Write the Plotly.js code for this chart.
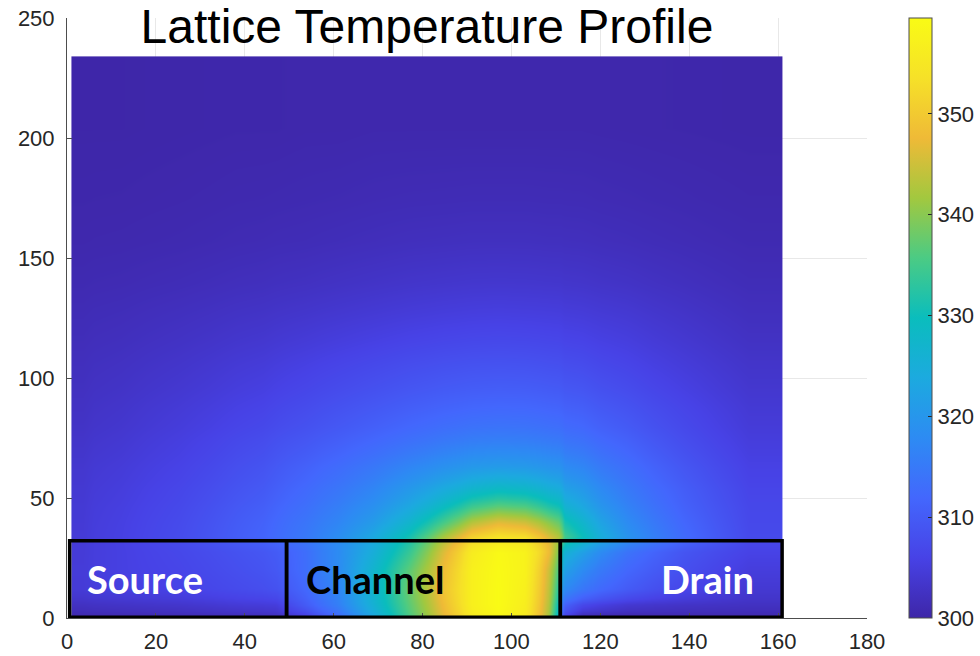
<!DOCTYPE html>
<html>
<head>
<meta charset="utf-8">
<script src="https://cdn.plot.ly/plotly-3.0.1.min.js"></script>
<style>
  html, body { margin: 0; padding: 0; background: #ffffff; }
  #chart { width: 980px; height: 656px; }
</style>
</head>
<body>
<div id="chart"></div>
<script>
// Mesh cell edges (nm) of the simulated device cross-section
const xEdges = [1, 6, 18, 32, 44, 50, 57, 65, 73, 81, 88, 94, 100, 106, 110.5, 112, 120, 132, 146, 161];
const yEdges = [0, 3, 8, 16, 24, 31, 37, 43, 50, 58, 68, 80, 96, 116, 140, 175, 234];

// Lattice temperature (K), one row per y cell, one value per x cell
const tempRows = [
  [301.0, 301.2, 301.5, 302.0, 302.5, 306.0, 313.0, 324.0, 336.0, 347.0, 356.0, 359.0, 356.0, 342.0, 312.0, 302.0, 301.0, 301.0, 301.0],
  [302.5, 303.0, 303.5, 304.5, 305.0, 310.0, 316.0, 326.0, 337.0, 348.0, 357.0, 359.5, 356.5, 343.0, 315.0, 307.0, 304.0, 303.0, 302.5],
  [304.5, 305.2, 306.0, 307.3, 308.5, 312.0, 317.0, 327.0, 338.0, 349.0, 357.0, 359.5, 357.0, 344.0, 321.0, 314.5, 310.0, 306.5, 304.0],
  [304.6, 305.5, 306.5, 308.0, 309.5, 313.0, 318.0, 327.0, 337.0, 348.0, 357.0, 359.3, 357.5, 345.0, 326.0, 318.0, 312.0, 308.0, 305.0],
  [304.5, 305.5, 306.8, 308.5, 310.0, 313.0, 318.0, 325.0, 334.0, 346.0, 356.0, 359.0, 357.5, 348.0, 330.0, 322.0, 314.0, 309.0, 306.0],
  [304.4, 305.6, 307.5, 310.3, 312.6, 314.8, 318.3, 323.5, 331.0, 342.0, 351.0, 354.0, 353.0, 346.0, 340.0, 330.0, 319.5, 312.5, 307.2],
  [304.3, 305.5, 307.3, 310.0, 312.2, 314.2, 317.0, 321.0, 327.0, 335.0, 343.0, 346.5, 345.0, 340.0, 335.0, 327.0, 318.0, 311.8, 307.0],
  [304.2, 305.3, 307.0, 309.5, 311.5, 313.3, 315.8, 319.0, 323.5, 329.0, 334.5, 337.0, 336.0, 332.0, 329.0, 323.5, 316.5, 311.0, 306.8],
  [304.0, 305.0, 306.6, 308.8, 310.6, 312.3, 314.4, 317.0, 320.5, 324.0, 327.0, 328.5, 327.8, 325.5, 323.8, 320.5, 315.0, 310.3, 306.4],
  [303.7, 304.6, 306.0, 308.0, 309.6, 311.0, 312.7, 314.7, 317.0, 319.0, 320.5, 321.0, 320.7, 319.7, 318.9, 317.0, 313.2, 309.2, 305.8],
  [303.2, 304.0, 305.3, 307.0, 308.3, 309.3, 310.6, 312.0, 313.5, 314.8, 315.7, 316.0, 315.8, 315.2, 314.7, 313.6, 311.0, 307.8, 305.0],
  [302.6, 303.3, 304.4, 305.7, 306.7, 307.5, 308.5, 309.5, 310.5, 311.3, 311.8, 312.0, 311.9, 311.5, 311.2, 310.5, 308.7, 306.4, 304.2],
  [302.0, 302.5, 303.3, 304.3, 305.0, 305.6, 306.3, 307.0, 307.7, 308.2, 308.5, 308.6, 308.5, 308.2, 308.0, 307.5, 306.3, 304.7, 303.2],
  [301.3, 301.6, 302.1, 302.7, 303.1, 303.4, 303.8, 304.2, 304.6, 304.9, 305.1, 305.2, 305.1, 305.0, 304.9, 304.6, 304.0, 303.0, 302.0],
  [300.5, 300.6, 300.8, 301.1, 301.3, 301.4, 301.6, 301.8, 302.0, 302.1, 302.2, 302.2, 302.2, 302.1, 302.1, 302.0, 301.7, 301.3, 300.9],
  [300.1, 300.1, 300.2, 300.3, 300.3, 300.4, 300.4, 300.5, 300.5, 300.5, 300.5, 300.5, 300.5, 300.5, 300.5, 300.5, 300.4, 300.3, 300.2]
];

// Device regions outlined on top of the map
const regionNames = ['Source', 'Channel', 'Drain'];
const regionStart = [0.6, 49.4, 111.0];
const regionEnd = [49.4, 111.0, 160.9];
const regionBottom = 0.3;
const regionTop = 32.2;

const xTicks = [0, 20, 40, 60, 80, 100, 120, 140, 160, 180];
const yTicks = [0, 50, 100, 150, 200, 250];
const cbTicks = [300, 310, 320, 330, 340, 350];
const tempMin = 300;
const tempMax = 359.5;

// MATLAB-style parula colormap
const parula = [
  [0.0, 'rgb(62,38,168)'],
  [0.1, 'rgb(71,66,230)'],
  [0.2, 'rgb(67,103,253)'],
  [0.3, 'rgb(45,139,243)'],
  [0.4, 'rgb(28,170,223)'],
  [0.5, 'rgb(10,189,189)'],
  [0.6, 'rgb(75,203,132)'],
  [0.7, 'rgb(162,200,63)'],
  [0.8, 'rgb(239,186,55)'],
  [0.9, 'rgb(246,225,40)'],
  [1.0, 'rgb(249,251,21)']
];

const tickFont = { family: 'Liberation Sans, Arial, sans-serif', size: 22, color: '#262626' };

const heat = {
  type: 'heatmap',
  x: xEdges,
  y: yEdges,
  z: tempRows,
  zsmooth: 'best',
  colorscale: parula,
  zmin: tempMin,
  zmax: tempMax,
  hoverinfo: 'skip',
  colorbar: {
    thickness: 23,
    len: 600,
    lenmode: 'pixels',
    x: 1.052,
    xanchor: 'left',
    xpad: 0,
    y: 0.5,
    yanchor: 'middle',
    ypad: 0,
    outlinecolor: '#4d4d4d',
    outlinewidth: 1,
    tickvals: cbTicks,
    ticks: 'inside',
    ticklen: 4,
    tickcolor: '#262626',
    ticklabelstandoff: 8,
    tickfont: tickFont
  }
};

const shapes = regionNames.map((name, i) => ({
  type: 'rect',
  xref: 'x', yref: 'y',
  x0: regionStart[i], x1: regionEnd[i],
  y0: regionBottom, y1: regionTop,
  line: { color: '#000000', width: 3.5 },
  fillcolor: 'rgba(0,0,0,0)'
}));

const labelColors = ['#ffffff', '#000000', '#ffffff'];
const labelX = [17.6, 69.4, 144.0];
const annotations = regionNames.map((name, i) => ({
  x: labelX[i], y: 16.4, xref: 'x', yref: 'y',
  text: name, showarrow: false,
  xanchor: 'center', yanchor: 'middle',
  font: { family: 'Lato, Open Sans, sans-serif', size: 38, color: labelColors[i], weight: 700 }
}));

const layout = {
  width: 980, height: 656,
  margin: { l: 67, r: 113, t: 18, b: 38, autoexpand: false },
  paper_bgcolor: '#ffffff',
  plot_bgcolor: '#ffffff',
  title: {
    text: 'Lattice Temperature Profile',
    font: { family: 'Liberation Sans, Arial, sans-serif', size: 48, color: '#000000' },
    xref: 'container', yref: 'container',
    x: 0.4357, xanchor: 'center',
    y: 0.96, yanchor: 'middle'
  },
  xaxis: {
    range: [0, 180],
    tickvals: xTicks,
    ticks: 'inside', ticklen: 5, tickcolor: '#4d4d4d',
    showline: true, linecolor: '#4d4d4d', linewidth: 1,
    showgrid: true, gridcolor: '#e8e8e8', gridwidth: 1,
    zeroline: false,
    tickfont: tickFont,
    ticklabelstandoff: 4,
    fixedrange: true
  },
  yaxis: {
    range: [0, 250],
    tickvals: yTicks,
    ticks: 'inside', ticklen: 5, tickcolor: '#4d4d4d',
    showline: true, linecolor: '#4d4d4d', linewidth: 1,
    showgrid: true, gridcolor: '#e8e8e8', gridwidth: 1,
    zeroline: false,
    tickfont: tickFont,
    ticklabelstandoff: 7,
    fixedrange: true
  },
  shapes: shapes,
  annotations: annotations,
  showlegend: false
};

Plotly.newPlot('chart', [heat], layout, { staticPlot: true, displayModeBar: false });
</script>
</body>
</html>
